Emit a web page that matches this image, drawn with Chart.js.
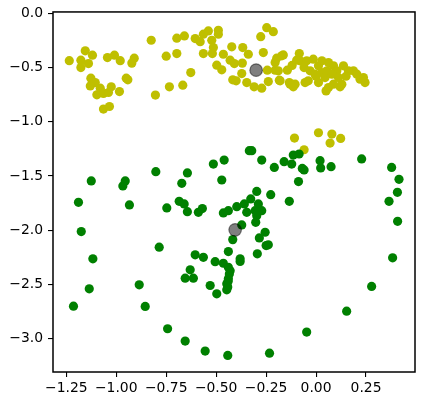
<!DOCTYPE html>
<html>
<head>
<meta charset="utf-8">
<script src="https://cdn.jsdelivr.net/npm/chart.js@4/dist/chart.umd.min.js"></script>
<style>
html,body{margin:0;padding:0;background:#fff;}
#wrap{width:423px;height:402px;}
</style>
</head>
<body>
<div id="wrap"><canvas id="c" width="423" height="402"></canvas></div>
<script>
const xTicks = [-1.25, -1.0, -0.75, -0.5, -0.25, 0.0, 0.25];
const yTicks = [0.0, -0.5, -1.0, -1.5, -2.0, -2.5, -3.0];

const yellowX = [-1.235,-1.155,-1.119,-1.177,-1.139,-1.177,-1.044,-1.009,-0.980,-0.910,-0.922,-0.825,-0.750,-0.697,-0.697,-0.659,-0.605,-0.564,-0.539,-0.489,-0.489,-0.522,-0.580,-0.514,-0.564,-0.519,-0.464,-0.422,-0.367,-0.430,-0.409,-0.369,-0.497,-0.472,-0.627,-0.372,-0.417,-0.347,-0.667,-0.734,-0.804,-1.127,-1.105,-1.130,-1.080,-1.097,-1.064,-1.025,-1.039,-0.984,-0.950,-0.942,-1.064,-1.034,
-0.247,-0.214,-0.277,-0.339,-0.264,-0.197,-0.164,-0.205,-0.244,-0.205,-0.144,-0.400,-0.310,-0.272,-0.239,-0.184,-0.134,-0.114,-0.084,-0.097,0.220,0.245,0.187,0.137,0.050,0.120,
-0.172,-0.189,-0.180,-0.130,-0.080,-0.047,-0.014,0.029,0.012,0.062,0.087,0.162,0.204,0.237,-0.030,-0.005,0.029,0.054,0.104,-0.039,0.012,0.045,0.062,0.087,0.129,0.112,0.079,-0.055,-0.105,
-0.060,0.000,0.150,-0.120,
-0.108,-0.060,0.012,0.079,0.070,0.123];
const yellowY = [-0.436,-0.346,-0.386,-0.432,-0.463,-0.500,-0.408,-0.386,-0.436,-0.413,-0.459,-0.248,-0.395,-0.371,-0.229,-0.208,-0.233,-0.192,-0.162,-0.156,-0.192,-0.248,-0.261,-0.316,-0.371,-0.371,-0.377,-0.309,-0.316,-0.432,-0.463,-0.459,-0.478,-0.521,-0.546,-0.555,-0.613,-0.638,-0.662,-0.678,-0.754,-0.598,-0.638,-0.669,-0.690,-0.751,-0.739,-0.678,-0.730,-0.721,-0.598,-0.613,-0.883,-0.859,
-0.132,-0.169,-0.215,-0.377,-0.362,-0.413,-0.383,-0.454,-0.524,-0.524,-0.524,-0.622,-0.678,-0.690,-0.629,-0.616,-0.638,-0.678,-0.371,-0.432,-0.607,-0.638,-0.530,-0.484,-0.715,-0.678,
-0.392,-0.530,-0.622,-0.653,-0.438,-0.438,-0.423,-0.438,-0.484,-0.454,-0.484,-0.530,-0.561,-0.592,-0.530,-0.561,-0.546,-0.530,-0.530,-0.622,-0.638,-0.592,-0.684,-0.653,-0.653,-0.592,-0.561,-0.638,-0.653,
-0.500,-0.580,-0.580,-0.480,
-1.150,-1.258,-1.101,-1.113,-1.196,-1.154];

const greenX = [-1.125,-0.955,-0.967,-0.802,-0.644,-0.672,-0.514,-0.460,-0.472,-0.334,-1.189,-0.934,-0.747,-0.685,-0.660,-0.644,-0.589,-0.569,-0.464,-0.439,-0.397,-0.359,-0.347,-0.372,-0.417,-1.175,-0.785,-0.439,-0.605,-0.564,-1.117,
-0.322,-0.272,-0.209,-0.160,-0.122,-0.114,-0.085,-0.069,-0.060,0.020,0.023,0.075,0.228,0.378,0.415,0.407,0.365,0.408,0.383,-0.088,-0.134,-0.227,-0.297,-0.327,-0.289,-0.305,-0.272,-0.297,-0.302,-0.255,-0.284,-0.250,-0.239,-0.294,-0.380,
-0.505,-0.464,-0.439,-0.434,-0.439,-0.447,-0.447,-0.380,-0.630,-0.655,-0.614,-0.530,-0.497,-0.430,-0.440,-0.442,
-1.135,-1.214,-0.885,-0.855,-0.743,-0.655,-0.555,-0.442,0.278,0.153,-0.047,-0.233];
const greenY = [-1.546,-1.546,-1.592,-1.460,-1.472,-1.568,-1.390,-1.353,-1.537,-1.267,-1.743,-1.767,-1.795,-1.734,-1.758,-1.829,-1.835,-1.801,-1.841,-1.820,-1.783,-1.758,-1.835,-1.951,-2.087,-2.013,-2.157,-2.197,-2.227,-2.250,-2.264,
-1.267,-1.353,-1.421,-1.368,-1.390,-1.307,-1.297,-1.430,-1.445,-1.359,-1.426,-1.414,-1.343,-1.421,-1.531,-1.651,-1.734,-1.918,-2.255,-1.552,-1.734,-1.672,-1.642,-1.712,-1.758,-1.820,-1.820,-1.866,-1.927,-2.019,-2.071,-2.142,-2.135,-2.218,-2.264,
-2.290,-2.305,-2.342,-2.403,-2.449,-2.495,-2.550,-2.289,-2.366,-2.443,-2.443,-2.510,-2.587,-2.375,-2.470,-2.525,
-2.541,-2.701,-2.504,-2.703,-2.909,-3.023,-3.115,-3.155,-2.519,-2.747,-2.940,-3.134];

const centroidX = [-0.300, -0.405];
const centroidY = [-0.524, -1.997];

const toPts = (xs, ys) => xs.map((x, i) => ({x: x, y: ys[i]}));
const fmtMinus = (v, d) => (v < 0 ? '\u2212' : '') + Math.abs(v).toFixed(d);

const boxPlugin = {
  id: 'box',
  afterDatasetsDraw(chart) {
    const a = chart.chartArea, ctx = chart.ctx;
    ctx.save();
    ctx.strokeStyle = '#000';
    ctx.lineWidth = 1.5;
    ctx.strokeRect(a.left, a.top, a.right - a.left, a.bottom - a.top);
    ctx.restore();
  }
};

const tickFont = {family: 'DejaVu Sans', size: 13.9, lineHeight: 1.0};

new Chart(document.getElementById('c'), {
  type: 'scatter',
  data: {
    datasets: [
      {data: toPts(centroidX, centroidY), backgroundColor: 'rgba(0,0,0,0.5)', borderColor: 'rgba(0,0,0,0.45)', borderWidth: 1.2, pointRadius: 6.3, order: 0},
      {data: toPts(greenX, greenY), backgroundColor: '#008000', borderWidth: 0, pointRadius: 4.6, order: 1},
      {data: toPts(yellowX, yellowY), backgroundColor: '#bfbf00', borderWidth: 0, pointRadius: 4.6, order: 2}
    ]
  },
  options: {
    responsive: false,
    animation: false,
    devicePixelRatio: 1,
    layout: {padding: {top: 11, right: 8, left: 0, bottom: 0}},
    plugins: {legend: {display: false}, tooltip: {enabled: false}},
    scales: {
      x: {
        type: 'linear', min: -1.3165, max: 0.495,
        afterBuildTicks: s => { s.ticks = xTicks.map(v => ({value: v})); },
        afterFit: s => { s.height = 30; },
        border: {display: false},
        grid: {drawOnChartArea: false, drawTicks: true, tickLength: 5, color: '#000', lineWidth: 1.1},
        ticks: {color: '#000', padding: 4, maxRotation: 0, autoSkip: false, font: tickFont, callback: v => fmtMinus(v, 2)}
      },
      y: {
        type: 'linear', min: -3.308, max: 0.013,
        afterBuildTicks: s => { s.ticks = yTicks.map(v => ({value: v})); },
        afterFit: s => { s.width = 53; },
        border: {display: false},
        grid: {drawOnChartArea: false, drawTicks: true, tickLength: 5, color: '#000', lineWidth: 1.1},
        ticks: {color: '#000', padding: 5, autoSkip: false, font: tickFont, callback: v => fmtMinus(v, 1)}
      }
    }
  },
  plugins: [boxPlugin]
});
</script>
</body>
</html>
